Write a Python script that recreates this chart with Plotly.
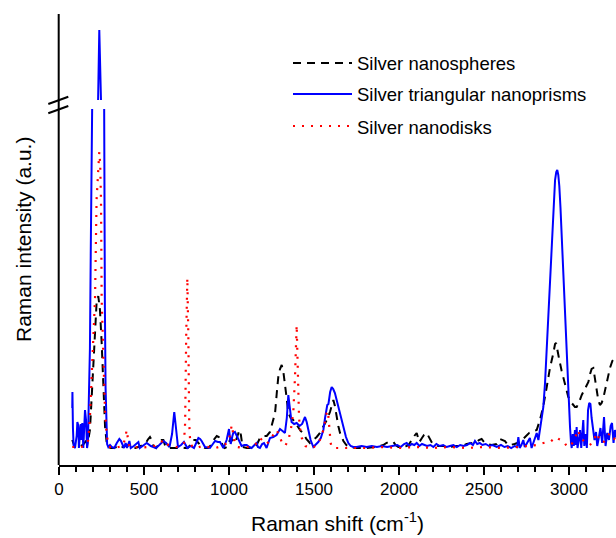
import plotly.graph_objects as go

# ---------------- data (Raman shift in cm^-1, intensity in a.u.) ----------------
prism_x = [78, 79, 82, 86, 94, 100, 104, 108, 114, 117, 122, 128, 131, 137, 143, 149, 153, 159, 165, 170,
           176, 182, 187, 191, 194, 205, 218, 227.6, 237, 247, 254, 259, 263, 266, 270, 274, 278, 283, 290,
           300, 310, 325, 340, 355, 365, 382, 392, 400, 414, 422, 440, 467, 475, 500, 516, 540, 571, 590,
           614, 630, 650, 665, 672, 678, 685, 692, 700, 718, 735, 755, 775, 794, 808, 820, 830, 839, 859,
           888, 905, 918, 935, 947, 967, 986, 1000, 1010, 1020, 1025, 1035, 1045, 1055, 1074, 1090, 1104,
           1120, 1133, 1150, 1163, 1170, 1182, 1195, 1206, 1221, 1235, 1241, 1260, 1280, 1290, 1300, 1315,
           1329, 1340, 1349, 1358, 1368, 1383, 1398, 1415, 1430, 1447, 1457, 1467, 1480, 1496, 1510, 1525,
           1540, 1555, 1565, 1578, 1585, 1595, 1604, 1613, 1623, 1633, 1643, 1658, 1673, 1688, 1702, 1716,
           1731, 1750, 1780, 1810, 1840, 1870, 1900, 1930, 1960, 1990, 2010, 2030, 2045, 2060, 2075, 2090,
           2104, 2120, 2135, 2150, 2165, 2185, 2202, 2220, 2240, 2260, 2280, 2300, 2320, 2340, 2360, 2380,
           2400, 2418, 2435, 2447, 2460, 2475, 2490, 2510, 2530, 2550, 2575, 2600, 2620, 2640, 2660, 2680,
           2695, 2702, 2710, 2720, 2731, 2740, 2755, 2770, 2780, 2795, 2810, 2820, 2829, 2840, 2849, 2859,
           2869, 2878, 2888, 2898, 2908, 2918, 2925, 2931, 2937, 2943, 2950, 2957, 2963, 2970, 2976, 2986,
           2996, 3006, 3012, 3016, 3022, 3028, 3035, 3040, 3045, 3050, 3060, 3065, 3072, 3084, 3090, 3098,
           3105, 3112, 3119, 3126, 3133, 3140, 3150, 3159, 3166, 3175, 3185, 3195, 3206, 3215, 3225, 3235,
           3245, 3253, 3262, 3270, 3280]
prism_y = [40, 56, 20, 2, 0, 8, 12, 26, 22, 0, 14, 24, 8, 25, 0, 34, 38, 28, 0, 5,
           40, 100, 200, 290, 500, 750, 900, 1000, 1070, 1000, 850, 650, 420, 250, 140, 60, 20, 4, 1,
           3, 1, 0, 5, 9, 7, 0, 5, 0, 7, 0, 2, 6, 0, 3, 5, 2, 0, 3,
           7, 5, 1, 14, 28, 36, 25, 13, 1, 3, 6, 0, 2, 0, 5, 10, 9, 7, 1,
           0, 4, 7, 6, 6, 0, 8, 19, 4, 12, 15, 16, 12, 8, 2, 3, 3,
           1, 0, 3, 5, 1, 0, 4, 5, 0, 8, 10, 11, 13, 16, 19, 17,
           15, 30, 53, 40, 26, 24, 25, 22, 24, 31, 26, 18, 8, 1, 3, 6,
           10, 18, 30, 43, 44, 56, 61, 59, 55, 48, 41, 30, 21, 11, 5, 2,
           1, 1, 2, 1, 2, 1, 2, 1, 2, 3, 1, 4, 5, 2, 4, 3,
           5, 2, 4, 3, 2, 3, 1, 4, 2, 3, 1, 2, 3, 1, 3, 2,
           3, 5, 3, 7, 4, 5, 3, 4, 2, 3, 1, 3, 1, 2, 0, 2,
           1, 11, 0, 3, 8, 1, 5, 10, 0, 8, 15, 8, 18, 30, 41, 65,
           100, 125, 160, 205, 240, 268, 276, 278, 273, 262, 240, 212, 188, 160, 131, 95,
           62, 21, 5, 0, 14, 2, 18, 3, 21, 0, 10, 18, 0, 28, 2, 14,
           0, 38, 45, 44, 30, 18, 8, 16, 2, 10, 20, 5, 31, 2, 15, 8,
           22, 25, 5, 18, 10]

sphere_x = [78, 90, 105, 120, 140, 155, 165, 172, 182, 192, 202, 212, 221, 231, 241, 251, 261, 271, 280, 290,
            305, 320, 340, 357, 375, 398, 420, 450, 480, 510, 525, 535, 545, 555, 571, 590, 604, 614, 625,
            640, 682, 700, 720, 740, 757, 772, 790, 805, 820, 840, 860, 876, 895, 910, 928, 940, 955, 967,
            975, 988, 1000, 1010, 1020, 1035, 1050, 1061, 1070, 1080, 1104, 1125, 1143, 1163, 1182, 1200,
            1222, 1241, 1261, 1271, 1281, 1290, 1300, 1310, 1320, 1329, 1339, 1349, 1363, 1378, 1393, 1408,
            1422, 1437, 1455, 1476, 1496, 1516, 1535, 1555, 1575, 1594, 1604, 1614, 1623, 1633, 1643, 1653,
            1663, 1673, 1690, 1712, 1750, 1810, 1860, 1908, 1925, 1937, 1955, 1967, 1980, 1996, 2020, 2045,
            2060, 2074, 2090, 2104, 2112, 2120, 2135, 2147, 2163, 2175, 2182, 2195, 2202, 2230, 2261, 2300,
            2339, 2370, 2398, 2430, 2457, 2470, 2486, 2500, 2516, 2545, 2575, 2594, 2610, 2623, 2640, 2653,
            2680, 2712, 2730, 2751, 2765, 2780, 2795, 2810, 2829, 2849, 2869, 2888, 2908, 2918, 2924, 2933,
            2943, 2957, 2976, 2996, 3016, 3035, 3045, 3060, 3075, 3090, 3104, 3114, 3124, 3133, 3143, 3152,
            3162, 3172, 3182, 3192, 3202, 3212, 3222, 3232, 3241, 3255, 3271, 3285]
sphere_y = [8, 2, 0, 1, 3, 6, 9, 8, 18, 50, 88, 125, 145, 152, 138, 105, 61, 21, 6, 1,
            0, 0, 1, 3, 1, 3, 1, 0, 2, 5, 9, 11, 8, 2, 0, 4, 8, 8, 2,
            0, 0, 0, 1, 0, 0, 3, 8, 8, 5, 1, 0, 0, 3, 8, 12, 11, 6, 1,
            0, 1, 6, 10, 8, 5, 12, 18, 13, 1, 0, 0, 0, 3, 10, 12,
            12, 16, 28, 35, 55, 71, 79, 83, 76, 65, 50, 35, 30, 28, 24, 21,
            17, 15, 9, 5, 8, 11, 15, 21, 28, 36, 42, 48, 42, 31, 22, 15,
            10, 7, 3, 1, 0, 0, 1, 3, 5, 6, 6, 6, 3, 1, 1, 2,
            4, 8, 12, 15, 9, 6, 10, 13, 15, 11, 10, 5, 4, 2, 2, 1,
            2, 2, 4, 5, 6, 8, 9, 6, 4, 3, 4, 9, 8, 7, 3, 3,
            4, 6, 9, 13, 15, 16, 17, 18, 28, 42, 61, 80, 95, 104, 105, 96,
            88, 77, 65, 51, 45, 41, 41, 46, 53, 58, 62, 66, 74, 79, 80, 70,
            58, 48, 43, 45, 50, 58, 65, 73, 80, 87, 91, 93]

disk_x = [78, 95, 110, 130, 150, 162, 172, 182, 190, 198, 205, 212, 221, 230, 237, 242, 247, 251, 256, 261,
          266, 271, 280, 290, 300, 320, 350, 375, 390, 398, 405, 412, 425, 450, 480, 520, 560, 590, 614,
          630, 660, 690, 720, 735, 742, 748, 755, 761, 766, 772, 785, 810, 840, 880, 920, 960, 990, 1005,
          1016, 1024, 1035, 1050, 1080, 1110, 1140, 1165, 1182, 1200, 1220, 1245, 1265, 1280, 1295, 1310,
          1330, 1350, 1365, 1378, 1388, 1398, 1405, 1412, 1418, 1428, 1437, 1450, 1470, 1500, 1525, 1540,
          1555, 1565, 1575, 1582, 1590, 1598, 1604, 1620, 1700, 1800, 1900, 2000, 2100, 2200, 2300, 2400,
          2500, 2600, 2700, 2780, 2810, 2849, 2888, 2910, 2924, 2940, 2957, 2975, 2986, 3000, 3020, 3040,
          3055, 3065, 3080, 3100, 3120, 3140, 3163, 3180, 3200, 3220, 3241, 3260, 3280]
disk_y = [1, 1, 0, 1, 2, 4, 8, 31, 60, 88, 120, 150, 248, 285, 296, 285, 248, 148, 115, 88,
          60, 35, 15, 3, 1, 0, 1, 2, 10, 18, 10, 3, 0, 1, 0, 1, 2, 4, 8,
          4, 2, 1, 2, 5, 25, 110, 170, 110, 25, 5, 1, 0, 2, 1, 0, 2, 5, 12,
          23, 15, 5, 1, 0, 1, 2, 5, 10, 7, 4, 8, 15, 18, 13, 6,
          2, 8, 20, 35, 70, 123, 75, 30, 20, 10, 8, 2, 0, 1, 5, 10,
          18, 28, 35, 37, 20, 5, 1, 0, 0, 0, 1, 0, 1, 0, 1, 0,
          1, 0, 1, 2, 3, 5, 6, 9, 11, 9, 8, 5, 2, 1, 5, 12,
          18, 10, 8, 6, 3, 5, 15, 8, 5, 10, 15, 10, 8]

series_names = ["Silver nanospheres", "Silver triangular nanoprisms", "Silver nanodisks"]
x_ticks = [0, 500, 1000, 1500, 2000, 2500, 3000]
x_title = "Raman shift (cm<sup>-1</sup>)"
y_title = "Raman intensity (a.u.)"

# ---------------- geometry (pixels) ----------------
W, H = 616, 538
L, R, T, B = 59, 0, 14, 73
PW, PH = W - L - R, H - T - B
def px(xp):
    return (xp - L) / PW
def py(yp):
    return (H - B - yp) / PH

lower_dom = [0, py(109)]
upper_dom = [py(100), 1]

styles = [
    dict(color="black", width=2, dash="8px,6px"),
    dict(color="#0000FF", width=2),
    dict(color="#FF0000", width=2.2, dash="2px,7px"),
]
data = [(sphere_x, sphere_y), (prism_x, prism_y), (disk_x, disk_y)]

fig = go.Figure()
for (xs, ys), st, nm in zip(data, styles, series_names):
    fig.add_trace(go.Scatter(x=xs, y=ys, mode="lines", line=st, name=nm,
                             showlegend=False, xaxis="x", yaxis="y"))
    fig.add_trace(go.Scatter(x=xs, y=ys, mode="lines", line=st, name=nm,
                             showlegend=False, xaxis="x", yaxis="y2"))

font_family = "Liberation Sans, Arial, sans-serif"

fig.update_layout(
    width=W, height=H,
    margin=dict(l=L, r=R, t=T, b=B, pad=0),
    paper_bgcolor="white", plot_bgcolor="white",
    font=dict(family=font_family, color="black", size=17),
    showlegend=False,
    xaxis=dict(range=[0, PW / 0.17], tickvals=x_ticks, ticktext=[str(v) for v in x_ticks],
               ticks="outside", ticklen=8, tickwidth=1.5, tickcolor="black",
               minor=dict(dtick=100, tick0=0, ticks="outside", ticklen=5, tickwidth=1.5, tickcolor="black"),
               showline=True, linewidth=2, linecolor="black", showgrid=False, zeroline=False,
               tickfont=dict(size=17), anchor="y"),
    yaxis=dict(domain=lower_dom, range=[-17, 339], showticklabels=False, ticks="",
               showgrid=False, zeroline=False, showline=False, anchor="x"),
    yaxis2=dict(domain=upper_dom, range=[1000, 1086], showticklabels=False, ticks="",
                showgrid=False, zeroline=False, showline=False, anchor="x"),
)

shapes = []
# continuous left axis line
shapes.append(dict(type="line", xref="paper", yref="paper", x0=px(58.7), x1=px(58.7), y0=0, y1=py(14),
                   line=dict(color="black", width=2)))
# axis break marks
for (x0, y0, x1, y1) in [(48.3, 104, 68.3, 96.7), (48.3, 113.3, 68.3, 106)]:
    shapes.append(dict(type="line", xref="paper", yref="paper", x0=px(x0), y0=py(y0), x1=px(x1), y1=py(y1),
                       line=dict(color="black", width=2)))
# legend samples
leg_rows = [63, 94, 126]
for row, st in zip(leg_rows, styles):
    shapes.append(dict(type="line", xref="paper", yref="paper", x0=px(293), x1=px(352), y0=py(row), y1=py(row),
                       line=st))
fig.update_layout(shapes=shapes)

ann = []
for row, nm in zip(leg_rows, series_names):
    ann.append(dict(text=nm, xref="paper", yref="paper", x=px(355), y=py(row + 1), xanchor="left",
                    yanchor="middle", showarrow=False, font=dict(size=18.5)))
ann.append(dict(text=x_title, xref="paper", yref="paper", x=px(337.5), y=py(522), xanchor="center",
                yanchor="middle", showarrow=False, font=dict(size=21)))
ann.append(dict(text=y_title, xref="paper", yref="paper", x=px(23), y=py(240), xanchor="center",
                yanchor="middle", textangle=-90, showarrow=False, font=dict(size=21)))
fig.update_layout(annotations=ann)

fig.write_html("out.html")
